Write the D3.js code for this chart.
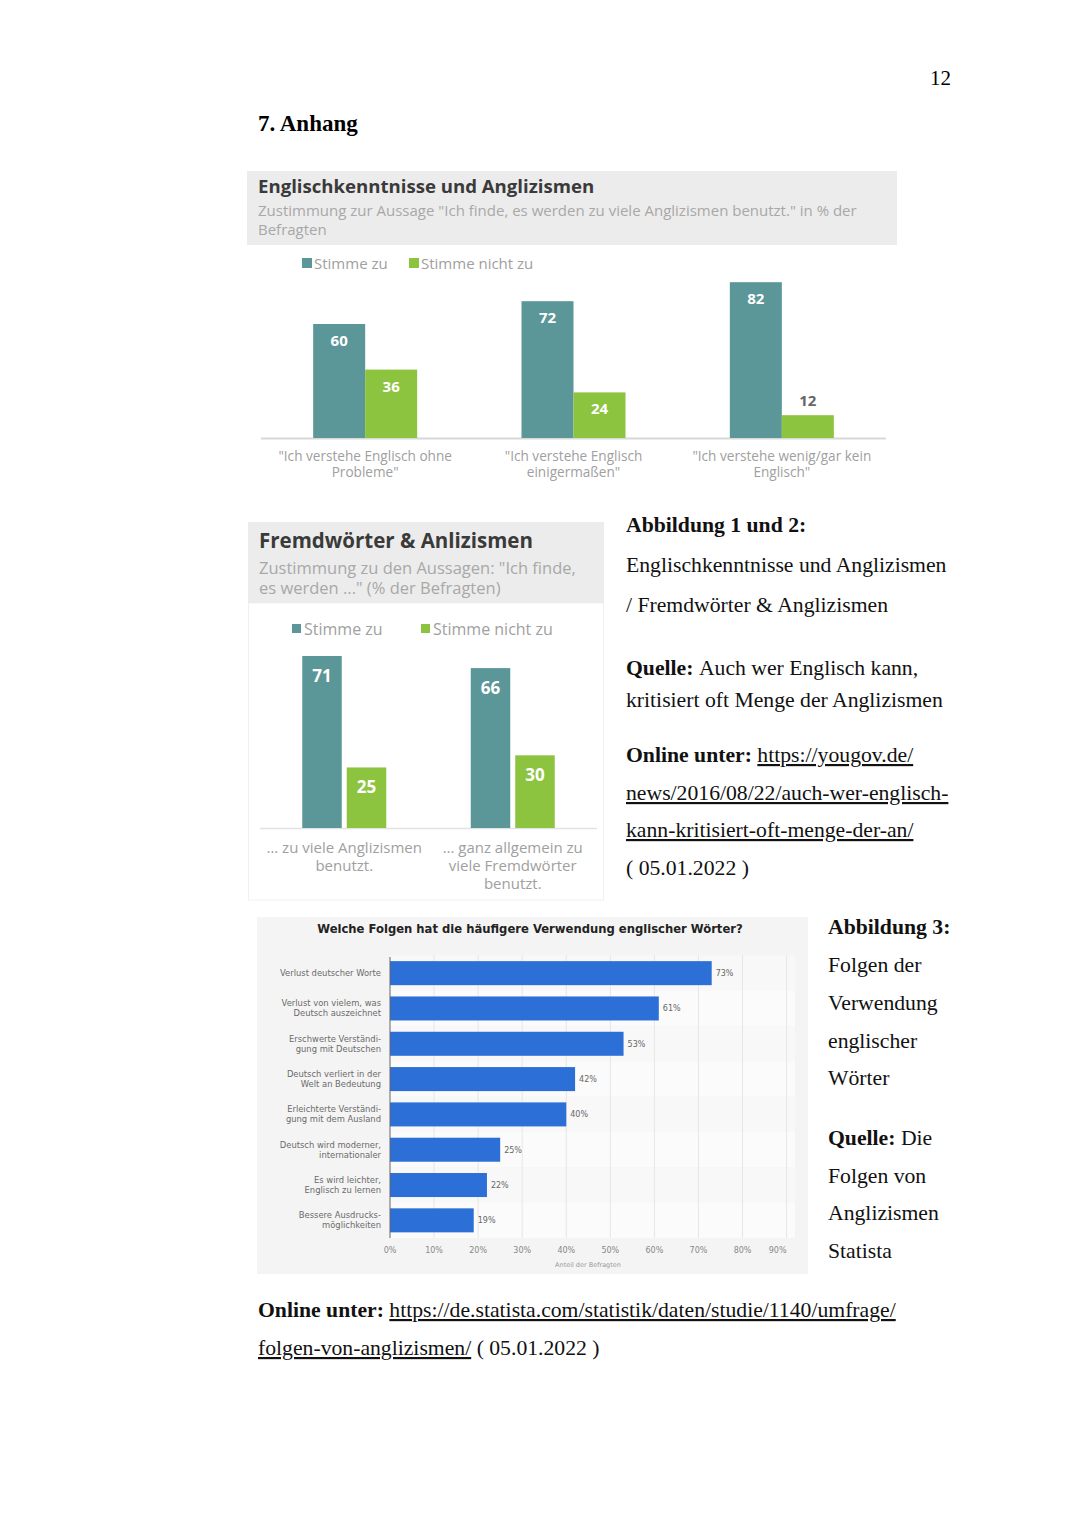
<!DOCTYPE html>
<html><head><meta charset="utf-8">
<script src="https://cdn.jsdelivr.net/npm/d3@7"></script>
<style>body{margin:0;background:#fff}svg{display:block}</style>
</head><body><svg id="page" width="1080" height="1527"></svg>
<script>
// ---------- DATA ----------
const seriesNames = ["Stimme zu", "Stimme nicht zu"];
const c1Groups = ["\"Ich verstehe Englisch ohne\nProbleme\"", "\"Ich verstehe Englisch\neinigermaßen\"", "\"Ich verstehe wenig/gar kein\nEnglisch\""];
const c1Agree = [60, 72, 82];
const c1Disagree = [36, 24, 12];

const c2Groups = ["… zu viele Anglizismen\nbenutzt.", "… ganz allgemein zu\nviele Fremdwörter\nbenutzt."];
const c2Agree = [71, 66];
const c2Disagree = [25, 30];

const c3Categories = ["Verlust deutscher Worte", "Verlust von vielem, was\nDeutsch auszeichnet", "Erschwerte Verständi-\ngung mit Deutschen", "Deutsch verliert in der\nWelt an Bedeutung", "Erleichterte Verständi-\ngung mit dem Ausland", "Deutsch wird moderner,\ninternationaler", "Es wird leichter,\nEnglisch zu lernen", "Bessere Ausdrucks-\nmöglichkeiten"];
const c3Values = [73, 61, 53, 42, 40, 25, 22, 19];
const c3Ticks = [0, 10, 20, 30, 40, 50, 60, 70, 80, 90];

// ---------- STYLE ----------
const TEAL = "#5b9698", GREEN = "#8cc43f";
const SANS = "'Open Sans', Lato, sans-serif";
const SERIF = "'Liberation Serif', 'Times New Roman', serif";
const SERIF_SIZE = "21.7px";
const svg = d3.select("#page");

function multiline(sel, str, x, y0, lh) {
  str.split("\n").forEach((l, i) => sel.append("tspan").attr("x", x).attr("y", y0 + i * lh).text(l));
}

// ---------- PAGE TEXT ----------
svg.append("text").attr("x", 951).attr("y", 85).attr("text-anchor", "end")
  .style("font-family", SERIF).style("font-size", "21px").text("12");
svg.append("text").attr("x", 258).attr("y", 131)
  .style("font-family", SERIF).style("font-size", "23px").style("font-weight", "bold").text("7. Anhang");

// ---------- CHART 1 ----------
(function () {
  const g = svg.append("g");
  g.append("rect").attr("x", 247).attr("y", 171).attr("width", 650).attr("height", 74).attr("fill", "#ececec");
  g.append("text").attr("x", 258).attr("y", 193).style("font-family", SANS).style("font-weight", "bold")
    .style("font-size", "18.6px").attr("fill", "#3a3a3a").text("Englischkenntnisse und Anglizismen");
  const st = g.append("text").style("font-family", SANS).style("font-size", "15px").attr("fill", "#a8a8a8");
  multiline(st, "Zustimmung zur Aussage \"Ich finde, es werden zu viele Anglizismen benutzt.\" in % der\nBefragten", 258, 216, 19);

  // legend
  const leg = [[302, seriesNames[0], TEAL], [409, seriesNames[1], GREEN]];
  leg.forEach(([x, t, c]) => {
    g.append("rect").attr("x", x).attr("y", 258).attr("width", 10).attr("height", 10).attr("fill", c);
    g.append("text").attr("x", x + 12).attr("y", 269).style("font-family", SANS).style("font-size", "15px")
      .attr("fill", "#a0a0a0").text(t);
  });

  const x0 = d3.scaleBand().domain(c1Groups).range([261, 886]);
  const y = d3.scaleLinear().domain([0, 100]).range([438, 248]);
  const bw = 52;
  g.append("line").attr("x1", 261).attr("x2", 886).attr("y1", 438.5).attr("y2", 438.5).attr("stroke", "#d8d8d8").attr("stroke-width", 2);
  c1Groups.forEach((cat, i) => {
    const cx = x0(cat) + x0.bandwidth() / 2;
    [[c1Agree[i], TEAL, cx - bw], [c1Disagree[i], GREEN, cx]].forEach(([v, col, bx]) => {
      g.append("rect").attr("x", bx).attr("y", y(v)).attr("width", bw).attr("height", y(0) - y(v)).attr("fill", col);
      const inside = y(0) - y(v) > 35;
      g.append("text").attr("x", bx + bw / 2).attr("y", inside ? y(v) + 22 : y(v) - 9).attr("text-anchor", "middle")
        .style("font-family", SANS).style("font-weight", "bold").style("font-size", "15px")
        .attr("fill", inside ? "#fff" : "#666").text(v);
    });
    const lt = g.append("text").attr("text-anchor", "middle").style("font-family", SANS).style("font-size", "13.6px").attr("fill", "#a0a0a0");
    multiline(lt, cat, cx, 461, 16);
  });
})();

// ---------- CHART 2 ----------
(function () {
  const g = svg.append("g");
  g.append("rect").attr("x", 248.5).attr("y", 603).attr("width", 355).attr("height", 297).attr("fill", "#fff").attr("stroke", "#f1f1f1");
  g.append("rect").attr("x", 248).attr("y", 522).attr("width", 356).attr("height", 81).attr("fill", "#ececec");
  g.append("text").attr("x", 259).attr("y", 548).style("font-family", SANS).style("font-weight", "bold")
    .style("font-size", "20.5px").attr("fill", "#3a3a3a").text("Fremdwörter & Anlizismen");
  const st = g.append("text").style("font-family", SANS).style("font-size", "16.5px").attr("fill", "#a8a8a8");
  multiline(st, "Zustimmung zu den Aussagen: \"Ich finde,\nes werden ...\" (% der Befragten)", 259, 574, 20);

  const leg = [[292, seriesNames[0], TEAL], [421, seriesNames[1], GREEN]];
  leg.forEach(([x, t, c]) => {
    g.append("rect").attr("x", x).attr("y", 624).attr("width", 9).attr("height", 9).attr("fill", c);
    g.append("text").attr("x", x + 12).attr("y", 635).style("font-family", SANS).style("font-size", "16px")
      .attr("fill", "#a0a0a0").text(t);
  });

  const x0 = d3.scaleBand().domain(c2Groups).range([260, 597]);
  const y = d3.scaleLinear().domain([0, 71]).range([828, 656]);
  const bw = 39.5, gap = 5;
  g.append("line").attr("x1", 260).attr("x2", 597).attr("y1", 828.5).attr("y2", 828.5).attr("stroke", "#e2e2e2").attr("stroke-width", 1.5);
  c2Groups.forEach((cat, i) => {
    const cx = x0(cat) + x0.bandwidth() / 2;
    [[c2Agree[i], TEAL, cx - bw - gap / 2], [c2Disagree[i], GREEN, cx + gap / 2]].forEach(([v, col, bx]) => {
      g.append("rect").attr("x", bx).attr("y", y(v)).attr("width", bw).attr("height", y(0) - y(v)).attr("fill", col);
      g.append("text").attr("x", bx + bw / 2).attr("y", y(v) + 26).attr("text-anchor", "middle")
        .style("font-family", SANS).style("font-weight", "bold").style("font-size", "17px")
        .attr("fill", "#fff").text(v);
    });
    const lt = g.append("text").attr("text-anchor", "middle").style("font-family", SANS).style("font-size", "15px").attr("fill", "#a0a0a0");
    multiline(lt, cat, cx, 853, 18);
  });
})();

// ---------- RIGHT TEXT 1 ----------
(function () {
  const lines = [
    [532, [["Abbildung 1 und 2:", true, false]]],
    [572, [["Englischkenntnisse und Anglizismen", false, false]]],
    [612, [["/ Fremdwörter & Anglizismen", false, false]]],
    [675, [["Quelle: ", true, false], ["Auch wer Englisch kann,", false, false]]],
    [707, [["kritisiert oft Menge der Anglizismen", false, false]]],
    [762, [["Online unter: ", true, false], ["https://yougov.de/", false, true]]],
    [800, [["news/2016/08/22/auch-wer-englisch-", false, true]]],
    [837, [["kann-kritisiert-oft-menge-der-an/", false, true]]],
    [875, [["( 05.01.2022 )", false, false]]]
  ];
  lines.forEach(([yy, parts]) => {
    const t = svg.append("text").attr("x", 626).attr("y", yy).style("font-family", SERIF).style("font-size", SERIF_SIZE).attr("fill", "#111");
    parts.forEach(([s, b, u]) => t.append("tspan").style("font-weight", b ? "bold" : "normal")
      .style("text-decoration", u ? "underline" : "none").text(s));
  });
})();

// ---------- CHART 3 (Statista) ----------
(function () {
  const g = svg.append("g");
  const F = "'DejaVu Sans', sans-serif";
  g.append("rect").attr("x", 257).attr("y", 917).attr("width", 551).attr("height", 357).attr("fill", "#f4f4f4");
  g.append("text").attr("x", 530).attr("y", 933).attr("text-anchor", "middle").style("font-family", F)
    .style("font-weight", "bold").style("font-size", "11.6px").attr("fill", "#222").text("Welche Folgen hat die häufigere Verwendung englischer Wörter?");

  const x = d3.scaleLinear().domain([0, 90]).range([390, 786.6]);
  const y = d3.scaleBand().domain(c3Categories).range([955.5, 1238]).paddingInner(0.32).paddingOuter(0.16);
  const step = y.step();
  c3Categories.forEach((c, i) => {
    g.append("rect").attr("x", 390).attr("y", 955.5 + i * step).attr("width", 405).attr("height", step)
      .attr("fill", i % 2 === 0 ? "#f8f8f8" : "#fbfbfb");
  });
  c3Ticks.forEach(t => {
    if (t === 0) return;
    g.append("line").attr("x1", x(t)).attr("x2", x(t)).attr("y1", 955).attr("y2", 1238).attr("stroke", "#e6e6e6").attr("stroke-width", 1);
  });
  c3Categories.forEach((c, i) => {
    g.append("rect").attr("x", x(0)).attr("y", y(c)).attr("width", x(c3Values[i]) - x(0)).attr("height", y.bandwidth()).attr("fill", "#2b6fd7");
    g.append("text").attr("x", x(c3Values[i]) + 4).attr("y", y(c) + y.bandwidth() / 2 + 3).style("font-family", F)
      .style("font-size", "8px").attr("fill", "#666").text(c3Values[i] + "%");
    const lines = c.split("\n");
    const cy = y(c) + y.bandwidth() / 2;
    const lt = g.append("text").attr("text-anchor", "end").style("font-family", F).style("font-size", "8.4px").attr("fill", "#6a6a6a");
    multiline(lt, c, 381, cy + 3 - (lines.length - 1) * 5, 10);
  });
  g.append("line").attr("x1", 390).attr("x2", 390).attr("y1", 957).attr("y2", 1238).attr("stroke", "#666").attr("stroke-width", 1);
  c3Ticks.forEach((t, i) => {
    g.append("text").attr("x", i === c3Ticks.length - 1 ? x(t) - 9 : x(t)).attr("y", 1253).attr("text-anchor", "middle")
      .style("font-family", F).style("font-size", "8px").attr("fill", "#888").text(t + "%");
  });
  g.append("text").attr("x", 588).attr("y", 1267).attr("text-anchor", "middle").style("font-family", F)
    .style("font-size", "6.5px").attr("fill", "#999").text("Anteil der Befragten");
})();

// ---------- RIGHT TEXT 2 ----------
(function () {
  const lines = [
    [934, [["Abbildung 3:", true]]],
    [972, [["Folgen der", false]]],
    [1010, [["Verwendung", false]]],
    [1048, [["englischer", false]]],
    [1085, [["Wörter", false]]],
    [1145, [["Quelle: ", true], ["Die", false]]],
    [1183, [["Folgen von", false]]],
    [1220, [["Anglizismen", false]]],
    [1258, [["Statista", false]]]
  ];
  lines.forEach(([yy, parts]) => {
    const t = svg.append("text").attr("x", 828).attr("y", yy).style("font-family", SERIF).style("font-size", SERIF_SIZE).attr("fill", "#111");
    parts.forEach(([s, b]) => t.append("tspan").style("font-weight", b ? "bold" : "normal").text(s));
  });
})();

// ---------- BOTTOM ----------
(function () {
  const t1 = svg.append("text").attr("x", 258).attr("y", 1317).style("font-family", SERIF).style("font-size", SERIF_SIZE).attr("fill", "#111");
  t1.append("tspan").style("font-weight", "bold").text("Online unter: ");
  t1.append("tspan").style("text-decoration", "underline").text("https://de.statista.com/statistik/daten/studie/1140/umfrage/");
  const t2 = svg.append("text").attr("x", 258).attr("y", 1355).style("font-family", SERIF).style("font-size", SERIF_SIZE).attr("fill", "#111");
  t2.append("tspan").style("text-decoration", "underline").text("folgen-von-anglizismen/");
  t2.append("tspan").text(" ( 05.01.2022 )");
})();
</script>
</body></html>
